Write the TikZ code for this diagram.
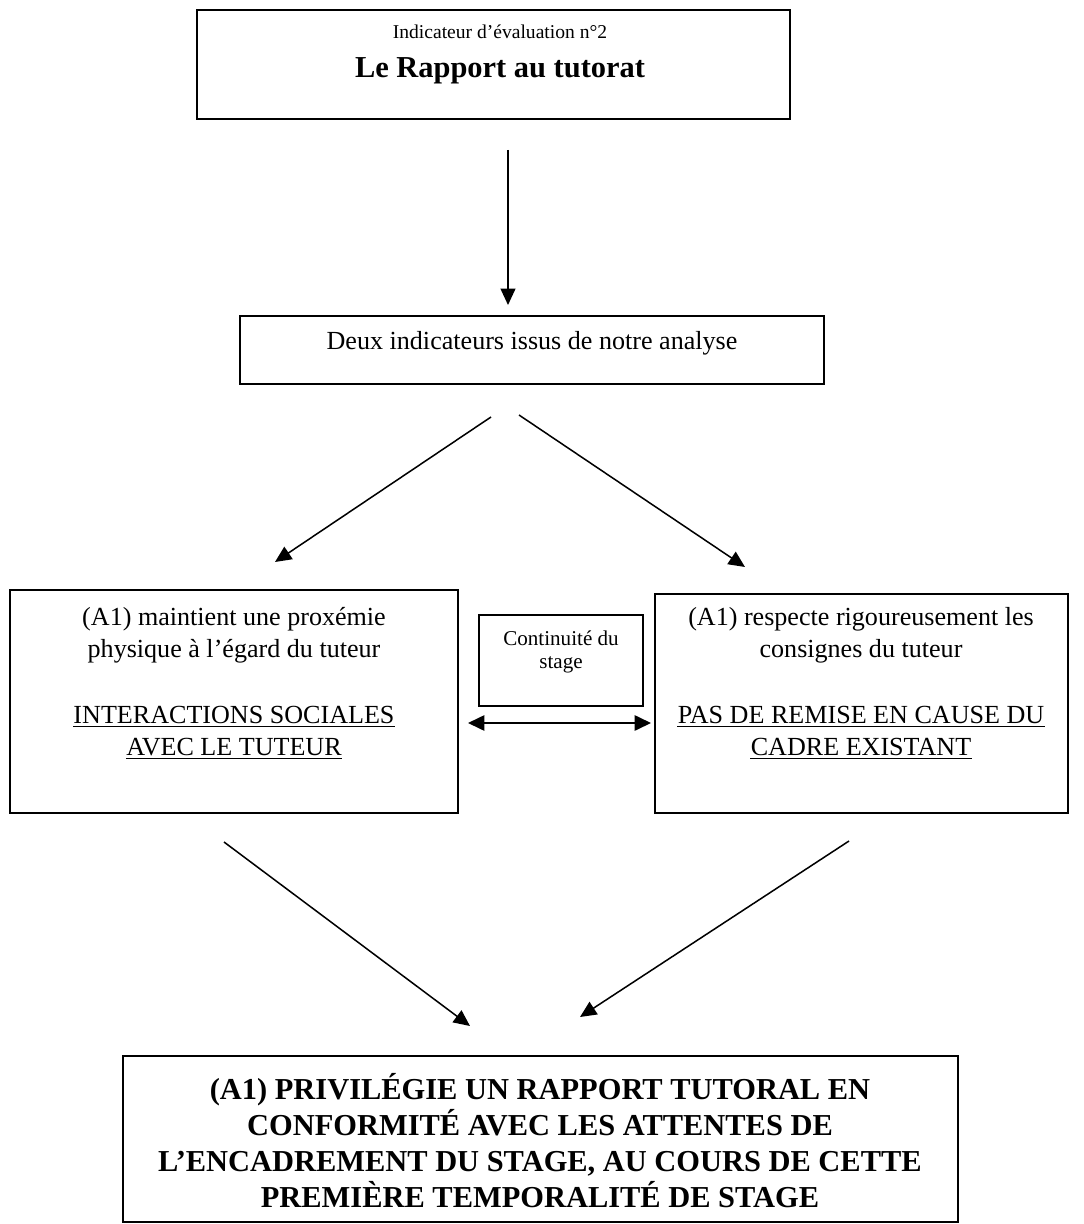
\documentclass[tikz,border=0pt]{standalone}
\usepackage{fontspec}
\setmainfont{Liberation Serif}
\usetikzlibrary{arrows.meta,fit}
\begin{document}
\begin{tikzpicture}[x=0.46pt,y=-0.46pt,
  box/.style={draw, line width=0.9pt, inner sep=0pt},
  conn/.style={line width=0.7pt, -{Triangle[length=7.5pt,width=6.8pt]}},
  dconn/.style={line width=0.9pt, {Triangle[length=7.5pt,width=7pt]}-{Triangle[length=7.5pt,width=7pt]}},
  txt/.style={anchor=base, inner sep=0pt},
  uline/.style={line width=0.8pt},
  mainf/.style={font=\fontsize{12}{14}\selectfont},
  smallf/.style={font=\fontsize{9}{11}\selectfont},
  contf/.style={font=\fontsize{9.7}{11}\selectfont},
  bigf/.style={font=\fontsize{14}{17}\selectfont\bfseries},
  botf/.style={font=\fontsize{14}{17}\selectfont\bfseries},
  ]
\useasboundingbox (0,0) rectangle (1083,1224);

% boxes
\node[box, fit={(197,10)(790,119)}] (topbox) {};
\node[box, fit={(240,316)(824,384)}] (midbox) {};
\node[box, fit={(10,590)(458,813)}] (leftbox) {};
\node[box, fit={(479,615)(643,706)}] (contbox) {};
\node[box, fit={(655,594)(1068,813)}] (rightbox) {};
\node[box, fit={(123,1056)(958,1222)}] (botbox) {};

% texts
\node[txt, smallf] (t1) at (500,39) {Indicateur d’évaluation n°2};
\node[txt, bigf] (t2) at (500,78) {Le Rapport au tutorat};
\node[txt, mainf] (t3) at (532,350) {Deux indicateurs issus de notre analyse};

\node[txt, mainf] (l1) at (234,625) {(A1) maintient une proxémie};
\node[txt, mainf] (l2) at (234,657) {physique à l’égard du tuteur};
\node[txt, mainf] (l3) at (234,723) {INTERACTIONS SOCIALES};
\node[txt, mainf] (l4) at (234,755) {AVEC LE TUTEUR};

\node[txt, contf] (c1) at (561,645) {Continuité du};
\node[txt, contf] (c2) at (561,668) {stage};

\node[txt, mainf] (r1) at (861,625) {(A1) respecte rigoureusement les};
\node[txt, mainf] (r2) at (861,657) {consignes du tuteur};
\node[txt, mainf] (r3) at (861,723) {PAS DE REMISE EN CAUSE DU};
\node[txt, mainf] (r4) at (861,755) {CADRE EXISTANT};

\foreach \n in {l3,l4,r3,r4}
  \draw[uline] ([yshift=-1.6pt]\n.base west) -- ([yshift=-1.6pt]\n.base east);

\node[txt, botf] (b1) at (540,1099) {(A1) PRIVILÉGIE UN RAPPORT TUTORAL EN};
\node[txt, botf] (b2) at (540,1135) {CONFORMITÉ AVEC LES ATTENTES DE};
\node[txt, botf] (b3) at (540,1171) {L’ENCADREMENT DU STAGE, AU COURS DE CETTE};
\node[txt, botf] (b4) at (540,1207) {PREMIÈRE TEMPORALITÉ DE STAGE};

% connector ends
\coordinate (a1s) at (508,150);  \coordinate (a1e) at (508,305);
\coordinate (a2s) at (491,417);  \coordinate (a2e) at (275,562);
\coordinate (a3s) at (519,415);  \coordinate (a3e) at (745,567);
\coordinate (a4s) at (468,723);  \coordinate (a4e) at (651,723);
\coordinate (a5s) at (224,842);  \coordinate (a5e) at (470,1026);
\coordinate (a6s) at (849,841);  \coordinate (a6e) at (580,1017);

\draw[conn] (a1s) -- (a1e);
\draw[conn] (a2s) -- (a2e);
\draw[conn] (a3s) -- (a3e);
\draw[dconn] (a4s) -- (a4e);
\draw[conn] (a5s) -- (a5e);
\draw[conn] (a6s) -- (a6e);
\end{tikzpicture}
\end{document}
